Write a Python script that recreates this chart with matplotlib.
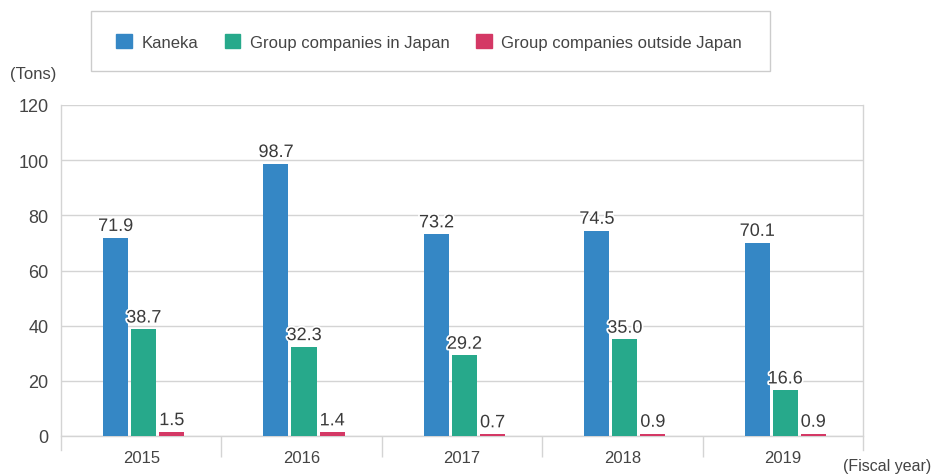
import matplotlib
matplotlib.use("Agg")
import matplotlib.pyplot as plt
import matplotlib.patheffects as pe
from matplotlib.patches import Rectangle
import numpy as np

plt.rcParams['font.family'] = ['Liberation Sans', 'DejaVu Sans']

years = ['2015', '2016', '2017', '2018', '2019']
series_names = ['Kaneka', 'Group companies in Japan', 'Group companies outside Japan']
kaneka = [71.9, 98.7, 73.2, 74.5, 70.1]
group_japan = [38.7, 32.3, 29.2, 35.0, 16.6]
group_overseas = [1.5, 1.4, 0.7, 0.9, 0.9]
colors = ['#3587c5', '#27a98b', '#d43865']

fig = plt.figure(figsize=(9.33, 4.77), dpi=100)
ax = fig.add_axes([61 / 933, 1 - 437 / 477, 802 / 933, 331 / 477])

x = np.arange(len(years))
width = 0.156
step = 0.175
grid_c = '#d4d4d4'

for i, (vals, col) in enumerate(zip([kaneka, group_japan, group_overseas], colors)):
    pos = x + (i - 1) * step + 0.015
    bars = ax.bar(pos, vals, width, color=col, zorder=3)
    for b, v in zip(bars, vals):
        ax.text(b.get_x() + b.get_width() / 2, v + 1.0, f'{v:.1f}',
                ha='center', va='bottom', fontsize=13, color='#3a3a3a', zorder=4,
                path_effects=[pe.withStroke(linewidth=2.5, foreground='white')])

ax.set_xlim(-0.5, len(years) - 0.5)
ax.set_ylim(0, 120)
ax.set_yticks(range(0, 121, 20))
ax.yaxis.grid(True, color=grid_c, linewidth=1)
ax.set_axisbelow(True)
ax.spines['top'].set_visible(False)
for s in ['left', 'right', 'bottom']:
    ax.spines[s].set_color(grid_c)
    ax.spines[s].set_linewidth(1)
ax.spines['left'].set_bounds(-5, 120)
ax.spines['right'].set_bounds(-5, 120)
ax.tick_params(axis='y', length=0, labelsize=13, labelcolor='#444444', pad=9)
ax.set_xticks(x)
ax.set_xticklabels(years)
ax.tick_params(axis='x', length=0, labelsize=12, labelcolor='#444444', pad=10)
ax.set_xticks(np.arange(0.5, len(years) - 1, 1), minor=True)
ax.tick_params(axis='x', which='minor', length=15, color=grid_c, width=1)

fig.text(10 / 933, 1 - 75 / 477, '(Tons)', fontsize=12, color='#444444', va='center')
fig.text(843 / 933, 1 - 467 / 477, '(Fiscal year)', fontsize=11.5, color='#444444', va='center')

# legend box across the top
fig.patches.append(Rectangle((91 / 933, 1 - 72 / 477), 679 / 933, 60 / 477,
                             transform=fig.transFigure, facecolor='white',
                             edgecolor='#cccccc', linewidth=1))
handles = [Rectangle((0, 0), 1, 1, color=c) for c in colors]
fig.legend(handles, series_names, loc='center', bbox_to_anchor=(429 / 933, 1 - 43 / 477),
           ncol=3, frameon=False, fontsize=12, handlelength=0.95, handleheight=0.95,
           columnspacing=1.6, handletextpad=0.55, labelcolor='#444444')

fig.savefig('out.png', dpi=100)
